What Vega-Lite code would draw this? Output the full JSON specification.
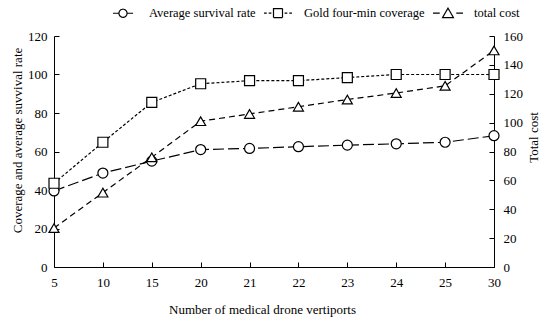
{
  "$schema": "https://vega.github.io/schema/vega-lite/v6.json",
  "width": 440,
  "height": 231,
  "autosize": {"type": "none"},
  "padding": {"left": 54, "top": 36, "right": 56, "bottom": 57},
  "background": "white",
  "config": {
    "view": {"stroke": null},
    "font": "Liberation Serif",
    "axis": {
      "labelFont": "Liberation Serif",
      "titleFont": "Liberation Serif",
      "labelFontSize": 13,
      "titleFontSize": 13,
      "titleFontWeight": "normal",
      "labelColor": "black",
      "titleColor": "black",
      "domainColor": "black",
      "tickColor": "black",
      "domainWidth": 1,
      "tickWidth": 1,
      "tickSize": -5,
      "grid": false
    },
    "legend": {
      "labelFont": "Liberation Serif",
      "labelFontSize": 12.5,
      "labelColor": "black",
      "title": null,
      "orient": "none",
      "direction": "horizontal",
      "legendX": 53,
      "legendY": -39,
      "symbolSize": 900,
      "labelOffset": 10,
      "columnPadding": 5
    }
  },
  "data": {
    "values": [
      {"x": "5", "series": "Average survival rate", "value": 39.5},
      {"x": "10", "series": "Average survival rate", "value": 48.8},
      {"x": "15", "series": "Average survival rate", "value": 55},
      {"x": "20", "series": "Average survival rate", "value": 61},
      {"x": "21", "series": "Average survival rate", "value": 61.6},
      {"x": "22", "series": "Average survival rate", "value": 62.5},
      {"x": "23", "series": "Average survival rate", "value": 63.3},
      {"x": "24", "series": "Average survival rate", "value": 64},
      {"x": "25", "series": "Average survival rate", "value": 64.8},
      {"x": "30", "series": "Average survival rate", "value": 68.2},
      {"x": "5", "series": "Gold four-min coverage", "value": 43.5},
      {"x": "10", "series": "Gold four-min coverage", "value": 64.8},
      {"x": "15", "series": "Gold four-min coverage", "value": 85.5},
      {"x": "20", "series": "Gold four-min coverage", "value": 95.2},
      {"x": "21", "series": "Gold four-min coverage", "value": 96.8},
      {"x": "22", "series": "Gold four-min coverage", "value": 96.8},
      {"x": "23", "series": "Gold four-min coverage", "value": 98.4},
      {"x": "24", "series": "Gold four-min coverage", "value": 100},
      {"x": "25", "series": "Gold four-min coverage", "value": 100},
      {"x": "30", "series": "Gold four-min coverage", "value": 100},
      {"x": "5", "series": "total cost", "value": 27},
      {"x": "10", "series": "total cost", "value": 51.5},
      {"x": "15", "series": "total cost", "value": 76},
      {"x": "20", "series": "total cost", "value": 101},
      {"x": "21", "series": "total cost", "value": 106},
      {"x": "22", "series": "total cost", "value": 111},
      {"x": "23", "series": "total cost", "value": 116},
      {"x": "24", "series": "total cost", "value": 120.5},
      {"x": "25", "series": "total cost", "value": 125.5},
      {"x": "30", "series": "total cost", "value": 150}
    ]
  },
  "encoding": {
    "x": {
      "field": "x",
      "type": "ordinal",
      "sort": null,
      "scale": {"type": "point", "padding": 0},
      "axis": {
        "title": "Number of medical drone vertiports",
        "labelAngle": 0,
        "labelPadding": 14,
        "titlePadding": 14,
        "titleX": 208
      }
    }
  },
  "layer": [
    {
      "transform": [{"filter": "datum.series !== 'total cost'"}],
      "encoding": {
        "y": {
          "field": "value",
          "type": "quantitative",
          "scale": {"domain": [0, 120]},
          "axis": {
            "title": "Coverage and average suvvival rate",
            "values": [0, 20, 40, 60, 80, 100, 120],
            "labelPadding": 12,
            "titlePadding": 3,
            "titleY": 104
          }
        }
      },
      "layer": [
        {
          "mark": {"type": "line", "strokeWidth": 1.2},
          "encoding": {
            "strokeDash": {
              "field": "series",
              "type": "nominal",
              "scale": {
                "domain": ["Average survival rate", "Gold four-min coverage", "total cost"],
                "range": [[11, 4], [3, 2], [6, 4]]
              },
              "legend": null
            },
            "color": {
              "field": "series",
              "type": "nominal",
              "scale": {"range": ["black", "black", "black"]},
              "legend": {
                "encode": {
                  "symbols": {
                    "update": {
                      "shape": {"signal": "datum.value === 'Average survival rate' ? 'M-0.67,0L-0.27,0M0.27,0L0.67,0M0.27,0A0.27,0.27,0,1,1,-0.27,0A0.27,0.27,0,1,1,0.27,0Z' : datum.value === 'Gold four-min coverage' ? 'M-0.93,0L-0.75,0M-0.62,0L-0.44,0M-0.3,-0.3L0.3,-0.3L0.3,0.3L-0.3,0.3ZM0.44,0L0.62,0M0.75,0L0.93,0' : 'M-1,0L-0.55,0M0.55,0L1,0M0,-0.33L0.36,0.3L-0.36,0.3Z'"},
                      "strokeDash": {"value": [1, 0]},
                      "fill": {"value": "white"},
                      "fillOpacity": {"value": 1},
                      "strokeWidth": {"value": 1.2}
                    }
                  }
                }
              }
            }
          }
        },
        {
          "mark": {"type": "point", "filled": true, "fill": "white", "stroke": "black", "strokeWidth": 1.2, "size": 100, "opacity": 1},
          "encoding": {
            "shape": {
              "field": "series",
              "type": "nominal",
              "scale": {
                "domain": ["Average survival rate", "Gold four-min coverage", "total cost"],
                "range": ["circle", "square", "triangle-up"]
              },
              "legend": null
            }
          }
        }
      ]
    },
    {
      "transform": [{"filter": "datum.series === 'total cost'"}],
      "encoding": {
        "y": {
          "field": "value",
          "type": "quantitative",
          "scale": {"domain": [0, 160]},
          "axis": {
            "orient": "right",
            "title": "Total cost",
            "values": [0, 20, 40, 60, 80, 100, 120, 140, 160],
            "labelPadding": 14,
            "titleAngle": 270,
            "titlePadding": 18,
            "titleY": 101
          }
        }
      },
      "layer": [
        {
          "mark": {"type": "line", "strokeWidth": 1.2},
          "encoding": {
            "strokeDash": {"field": "series", "type": "nominal", "legend": null},
            "color": {
              "field": "series",
              "type": "nominal",
              "legend": {
                "encode": {
                  "symbols": {
                    "update": {
                      "shape": {"signal": "datum.value === 'Average survival rate' ? 'M-0.67,0L-0.27,0M0.27,0L0.67,0M0.27,0A0.27,0.27,0,1,1,-0.27,0A0.27,0.27,0,1,1,0.27,0Z' : datum.value === 'Gold four-min coverage' ? 'M-0.93,0L-0.75,0M-0.62,0L-0.44,0M-0.3,-0.3L0.3,-0.3L0.3,0.3L-0.3,0.3ZM0.44,0L0.62,0M0.75,0L0.93,0' : 'M-1,0L-0.55,0M0.55,0L1,0M0,-0.33L0.36,0.3L-0.36,0.3Z'"},
                      "strokeDash": {"value": [1, 0]},
                      "fill": {"value": "white"},
                      "fillOpacity": {"value": 1},
                      "strokeWidth": {"value": 1.2}
                    }
                  }
                }
              }
            }
          }
        },
        {
          "mark": {"type": "point", "filled": true, "fill": "white", "stroke": "black", "strokeWidth": 1.2, "size": 100, "opacity": 1},
          "encoding": {
            "shape": {"field": "series", "type": "nominal", "legend": null}
          }
        }
      ]
    }
  ],
  "resolve": {"scale": {"y": "independent"}}
}
